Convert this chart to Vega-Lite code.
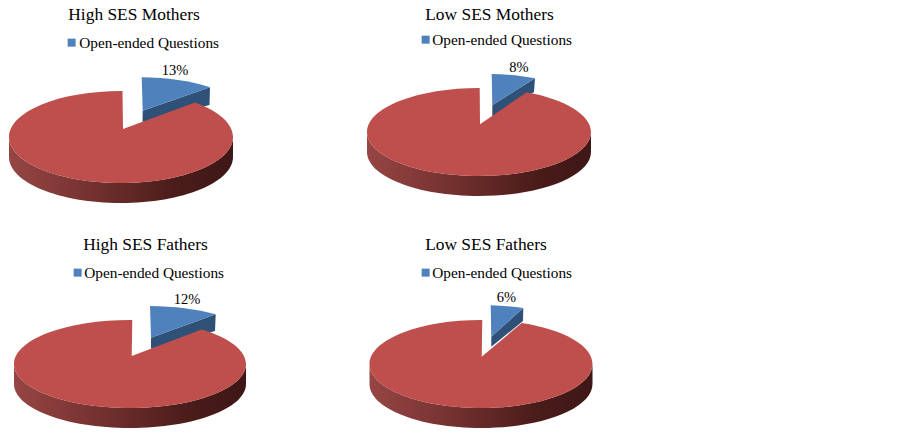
{"$schema":"https://vega.github.io/schema/vega-lite/v6.json","padding":0,"background":"white","config":{"view":{"stroke":null}},"datasets":{"slices":[{"panel":"High SES Mothers","slice":"Open-ended Questions","share":0.13},{"panel":"High SES Mothers","slice":"Other","share":0.87},{"panel":"Low SES Mothers","slice":"Open-ended Questions","share":0.08},{"panel":"Low SES Mothers","slice":"Other","share":0.92},{"panel":"High SES Fathers","slice":"Open-ended Questions","share":0.12},{"panel":"High SES Fathers","slice":"Other","share":0.88},{"panel":"Low SES Fathers","slice":"Open-ended Questions","share":0.06},{"panel":"Low SES Fathers","slice":"Other","share":0.94}]},"spacing":0,"resolve":{"scale":{"color":"independent"}},"vconcat":[{"spacing":50,"resolve":{"scale":{"color":"independent"}},"hconcat":[
{"width":300,"height":216,"title":{"text":"High SES Mothers","font":"Liberation Serif","fontSize":17.4,"fontWeight":"normal","color":"black","anchor":"middle","dx":-16,"offset":-23},"data":{"name":"slices"},"transform":[{"filter":"datum.panel==='High SES Mothers'"}],"layer":[
{"transform":[{"filter":"datum.slice==='Open-ended Questions'"}],"mark":{"type":"point","filled":true,"opacity":1,"size":4,"fill":"#2f5077","shape":"M-7.3,2.7 L60,-20.7 L59.5,-3 L-7.5,14 Z"}},
{"transform":[{"filter":"datum.slice==='Open-ended Questions'"}],"mark":{"type":"point","filled":true,"opacity":1,"size":4,"shape":"M-7.3,2.7 L-8.3,-30.7 A112,46 0 0 1 60,-20.7 Z"},"encoding":{"color":{"field":"slice","type":"nominal","scale":{"domain":["Open-ended Questions"],"range":["#4f81bd"]},"legend":{"title":null,"orient":"none","legendX":64,"legendY":35,"symbolType":"square","symbolSize":64,"labelFont":"Liberation Serif","labelFontSize":15.3,"labelColor":"black","labelOffset":0}}}},
{"transform":[{"filter":"datum.slice==='Other'"}],"mark":{"type":"point","filled":true,"opacity":1,"size":4,"shape":"M-141,29 L-141,49 A112,46 0 0 0 83,49 L83,29 A112,46 0 0 1 -141,29 Z","fill":{"gradient":"linear","x1":0,"x2":1,"y1":0,"y2":0,"stops":[{"offset":0,"color":"#964644"},{"offset":0.3,"color":"#7b3533"},{"offset":0.75,"color":"#4a1c1a"},{"offset":1,"color":"#3e1716"}]}}},
{"transform":[{"filter":"datum.slice==='Other'"}],"mark":{"type":"point","filled":true,"opacity":1,"size":4,"fill":"#be4f4c","shape":"M-27,21 L-27.5,-17 A112,46 0 0 0 -141,29 A112,46 0 0 0 83,29 A112,46 0 0 0 45,-5.53 Z"}},
{"transform":[{"filter":"datum.slice==='Open-ended Questions'"}],"mark":{"type":"text","font":"Liberation Serif","fontSize":14.5,"color":"black","dx":25,"dy":-37},"encoding":{"text":{"field":"share","type":"quantitative","format":".0%"}}}]},
{"width":300,"height":216,"title":{"text":"Low SES Mothers","font":"Liberation Serif","fontSize":17.4,"fontWeight":"normal","color":"black","anchor":"middle","dx":-10.5,"offset":-23},"data":{"name":"slices"},"transform":[{"filter":"datum.panel==='Low SES Mothers'"}],"layer":[
{"transform":[{"filter":"datum.slice==='Open-ended Questions'"}],"mark":{"type":"point","filled":true,"opacity":1,"size":4,"fill":"#2f5077","shape":"M-7.7,-2.7 L35,-29.7 L34,-16 L-7.7,10 Z"}},
{"transform":[{"filter":"datum.slice==='Open-ended Questions'"}],"mark":{"type":"point","filled":true,"opacity":1,"size":4,"shape":"M-7.7,-2.7 L-8.3,-34 A112,44 0 0 1 35,-29.7 Z"},"encoding":{"color":{"field":"slice","type":"nominal","scale":{"domain":["Open-ended Questions"],"range":["#4f81bd"]},"legend":{"title":null,"orient":"none","legendX":68,"legendY":32,"symbolType":"square","symbolSize":64,"labelFont":"Liberation Serif","labelFontSize":15.3,"labelColor":"black","labelOffset":-1}}}},
{"transform":[{"filter":"datum.slice==='Other'"}],"mark":{"type":"point","filled":true,"opacity":1,"size":4,"shape":"M-133,24 L-133,44 A112,44 0 0 0 91,44 L91,24 A112,44 0 0 1 -133,24 Z","fill":{"gradient":"linear","x1":0,"x2":1,"y1":0,"y2":0,"stops":[{"offset":0,"color":"#964644"},{"offset":0.3,"color":"#7b3533"},{"offset":0.75,"color":"#4a1c1a"},{"offset":1,"color":"#3e1716"}]}}},
{"transform":[{"filter":"datum.slice==='Other'"}],"mark":{"type":"point","filled":true,"opacity":1,"size":4,"fill":"#be4f4c","shape":"M-20,16.3 L-20.3,-20 A112,44 0 0 0 -133,24 A112,44 0 0 0 91,24 A112,44 0 0 0 26.7,-15.81 Z"}},
{"transform":[{"filter":"datum.slice==='Open-ended Questions'"}],"mark":{"type":"text","font":"Liberation Serif","fontSize":14.5,"color":"black","dx":19,"dy":-40},"encoding":{"text":{"field":"share","type":"quantitative","format":".0%"}}}]}]},
{"spacing":50,"resolve":{"scale":{"color":"independent"}},"hconcat":[
{"width":300,"height":216,"title":{"text":"High SES Fathers","font":"Liberation Serif","fontSize":17.4,"fontWeight":"normal","color":"black","anchor":"middle","dx":-4.5,"offset":-37},"data":{"name":"slices"},"transform":[{"filter":"datum.panel==='High SES Fathers'"}],"layer":[
{"transform":[{"filter":"datum.slice==='Open-ended Questions'"}],"mark":{"type":"point","filled":true,"opacity":1,"size":4,"fill":"#2f5077","shape":"M1,13.7 L65.7,-9.7 L65,7 L1,24.7 Z"}},
{"transform":[{"filter":"datum.slice==='Open-ended Questions'"}],"mark":{"type":"point","filled":true,"opacity":1,"size":4,"shape":"M1,13.7 L0,-18 A116,44 0 0 1 65.7,-9.7 Z"},"encoding":{"color":{"field":"slice","type":"nominal","scale":{"domain":["Open-ended Questions"],"range":["#4f81bd"]},"legend":{"title":null,"orient":"none","legendX":70,"legendY":49,"symbolType":"square","symbolSize":64,"labelFont":"Liberation Serif","labelFontSize":15.3,"labelColor":"black","labelOffset":-1}}}},
{"transform":[{"filter":"datum.slice==='Other'"}],"mark":{"type":"point","filled":true,"opacity":1,"size":4,"shape":"M-136,40 L-136,60 A116,44 0 0 0 96,60 L96,40 A116,44 0 0 1 -136,40 Z","fill":{"gradient":"linear","x1":0,"x2":1,"y1":0,"y2":0,"stops":[{"offset":0,"color":"#964644"},{"offset":0.3,"color":"#7b3533"},{"offset":0.75,"color":"#4a1c1a"},{"offset":1,"color":"#3e1716"}]}}},
{"transform":[{"filter":"datum.slice==='Other'"}],"mark":{"type":"point","filled":true,"opacity":1,"size":4,"fill":"#be4f4c","shape":"M-18.3,32 L-17.7,-4 A116,44 0 0 0 -136,40 A116,44 0 0 0 96,40 A116,44 0 0 0 51.7,5.41 Z"}},
{"transform":[{"filter":"datum.slice==='Open-ended Questions'"}],"mark":{"type":"text","font":"Liberation Serif","fontSize":14.5,"color":"black","dx":37,"dy":-24},"encoding":{"text":{"field":"share","type":"quantitative","format":".0%"}}}]},
{"width":300,"height":216,"title":{"text":"Low SES Fathers","font":"Liberation Serif","fontSize":17.4,"fontWeight":"normal","color":"black","anchor":"middle","dx":-14,"offset":-37},"data":{"name":"slices"},"transform":[{"filter":"datum.panel==='Low SES Fathers'"}],"layer":[
{"transform":[{"filter":"datum.slice==='Open-ended Questions'"}],"mark":{"type":"point","filled":true,"opacity":1,"size":4,"fill":"#2f5077","shape":"M-8.7,12.7 L23.3,-16 L23,-3 L-8.7,22.7 Z"}},
{"transform":[{"filter":"datum.slice==='Open-ended Questions'"}],"mark":{"type":"point","filled":true,"opacity":1,"size":4,"shape":"M-8.7,12.7 L-9.3,-18.7 A111.5,44 0 0 1 23.3,-16 Z"},"encoding":{"color":{"field":"slice","type":"nominal","scale":{"domain":["Open-ended Questions"],"range":["#4f81bd"]},"legend":{"title":null,"orient":"none","legendX":68,"legendY":49,"symbolType":"square","symbolSize":64,"labelFont":"Liberation Serif","labelFontSize":15.3,"labelColor":"black","labelOffset":-1}}}},
{"transform":[{"filter":"datum.slice==='Other'"}],"mark":{"type":"point","filled":true,"opacity":1,"size":4,"shape":"M-130.5,40 L-130.5,60 A111.5,44 0 0 0 92.5,60 L92.5,40 A111.5,44 0 0 1 -130.5,40 Z","fill":{"gradient":"linear","x1":0,"x2":1,"y1":0,"y2":0,"stops":[{"offset":0,"color":"#964644"},{"offset":0.3,"color":"#7b3533"},{"offset":0.75,"color":"#4a1c1a"},{"offset":1,"color":"#3e1716"}]}}},
{"transform":[{"filter":"datum.slice==='Other'"}],"mark":{"type":"point","filled":true,"opacity":1,"size":4,"fill":"#be4f4c","shape":"M-18.3,32.7 L-17.7,-4 A111.5,44 0 0 0 -130.5,40 A111.5,44 0 0 0 92.5,40 A111.5,44 0 0 0 21.7,-0.96 Z"}},
{"transform":[{"filter":"datum.slice==='Open-ended Questions'"}],"mark":{"type":"text","font":"Liberation Serif","fontSize":14.5,"color":"black","dx":6.5,"dy":-26},"encoding":{"text":{"field":"share","type":"quantitative","format":".0%"}}}]}]}]}
